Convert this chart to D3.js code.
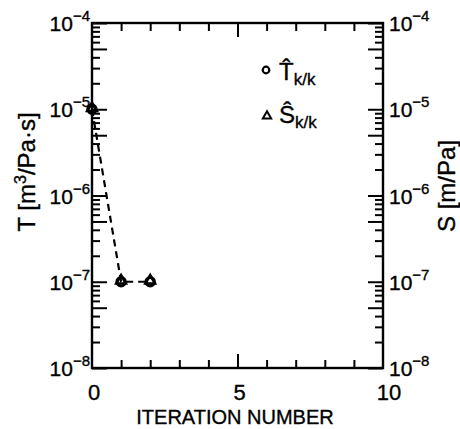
<!DOCTYPE html>
<html><head><meta charset="utf-8">
<script src="https://cdn.jsdelivr.net/npm/d3@7"></script>
<style>body{margin:0;background:#fff}svg{display:block}text{font-family:"Liberation Sans",Arial,sans-serif;fill:#000;stroke:#000;stroke-width:0.35px}</style>
</head><body><svg id="c" width="460" height="429"></svg>
<script>
const iterations = [0, 1, 2];
const T_values = [1e-5, 1e-7, 1e-7];
const S_values = [1e-5, 1e-7, 1e-7];
const xTickLabels = [0, 5, 10];
const yDecades = [-8, -7, -6, -5, -4];
const legendLabels = ["T", "S"];

const svg = d3.select("#c");
const L = 92, R = 383, T = 23, B = 368;
const x = d3.scaleLinear().domain([0, 10]).range([L, R]);
const y = d3.scaleLog().domain([1e-8, 1e-4]).range([B, T]);

const allY = y.ticks();
const isMaj = v => { const m = v / Math.pow(10, Math.floor(Math.log10(v) + 1e-9)); return Math.abs(m - 1) < 1e-6 || Math.abs(m - 5) < 1e-6; };
const yMaj = allY.filter(isMaj), yMin = allY.filter(v => !isMaj(v));
const xAll = d3.range(0, 11), xMaj = [5], xMin = xAll.filter(v => v !== 5 && v !== 0 && v !== 10);

function ax(gen, tr, vals, len) {
  const g = svg.append("g").attr("transform", tr)
    .call(gen.tickValues(vals).tickSize(-len).tickFormat(""));
  g.selectAll("line").attr("stroke", "#000").attr("stroke-width", 2);
  g.select(".domain").remove();
}
ax(d3.axisLeft(y), `translate(${L},0)`, yMaj, 15);
ax(d3.axisLeft(y), `translate(${L},0)`, yMin, 8);
ax(d3.axisRight(y), `translate(${R},0)`, yMaj, 15);
ax(d3.axisRight(y), `translate(${R},0)`, yMin, 8);
ax(d3.axisBottom(x), `translate(0,${B})`, xMaj, 14);
ax(d3.axisBottom(x), `translate(0,${B})`, xMin, 8);
ax(d3.axisTop(x), `translate(0,${T})`, xMaj, 14);
ax(d3.axisTop(x), `translate(0,${T})`, xMin, 8);

svg.append("rect").attr("x", L).attr("y", T).attr("width", R - L).attr("height", B - T)
  .attr("fill", "none").attr("stroke", "#000").attr("stroke-width", 2.4);

// y tick labels
yDecades.forEach(d => {
  const yy = y(Math.pow(10, d)) + 8;
  const tl = svg.append("text").attr("x", 90).attr("y", yy).attr("text-anchor", "end").style("font-size", "21px");
  tl.append("tspan").text("10");
  tl.append("tspan").attr("dy", -10).style("font-size", "15px").text("\u2212" + Math.abs(d));
  const tr = svg.append("text").attr("x", 389).attr("y", yy).style("font-size", "21px");
  tr.append("tspan").text("10");
  tr.append("tspan").attr("dy", -10).style("font-size", "15px").text("\u2212" + Math.abs(d));
});
// x tick labels
xTickLabels.forEach(v => {
  svg.append("text").attr("x", x(v) + (v === 10 ? 6 : 2)).attr("y", 400).attr("text-anchor", "middle")
    .style("font-size", "22px").text(v);
});
svg.append("text").attr("x", 235).attr("y", 424).attr("text-anchor", "middle").style("font-size", "20px").text("ITERATION NUMBER");

// y titles
const lt = svg.append("text").attr("transform", "translate(35,172) rotate(-90)").attr("text-anchor", "middle").style("font-size", "24px");
lt.append("tspan").text("T [m");
lt.append("tspan").attr("dy", -9).style("font-size", "16px").text("3");
lt.append("tspan").attr("dy", 9).text("/Pa\u00b7s]");
svg.append("text").attr("transform", "translate(455,186) rotate(-90)").attr("text-anchor", "middle").style("font-size", "24px").text("S [m/Pa]");

// data line
const line = d3.line().x((d, i) => x(iterations[i])).y(d => y(d));
svg.append("path").attr("d", line(T_values)).attr("fill", "none").attr("stroke", "#000")
  .attr("stroke-width", 2.2).attr("stroke-dasharray", "7,5");

const tri = d3.symbol().type(d3.symbolTriangle).size(40);
// markers
svg.selectAll(".cT").data(T_values).join("circle").attr("cx", (d, i) => x(iterations[i])).attr("cy", d => y(d))
  .attr("r", 4.2).attr("fill", "none").attr("stroke", "#000").attr("stroke-width", 3);
svg.selectAll(".tS").data(S_values).join("path").attr("d", tri)
  .attr("transform", (d, i) => `translate(${x(iterations[i])},${y(d) - 1})`)
  .attr("fill", "none").attr("stroke", "#000").attr("stroke-width", 2.6);

// legend
svg.append("circle").attr("cx", 266).attr("cy", 70).attr("r", 3.3).attr("fill", "none").attr("stroke", "#000").attr("stroke-width", 2.2);
svg.append("path").attr("d", d3.symbol().type(d3.symbolTriangle).size(30)).attr("transform", "translate(267,116)")
  .attr("fill", "none").attr("stroke", "#000").attr("stroke-width", 2);
[[80, 0], [123, 1]].forEach(([by, i]) => {
  const t = svg.append("text").attr("x", 279).attr("y", by).style("font-size", "24px");
  t.append("tspan").text(legendLabels[i] + "\u0302");
  t.append("tspan").attr("dy", 5).style("font-size", "17px").text("k/k");
});
</script></body></html>
